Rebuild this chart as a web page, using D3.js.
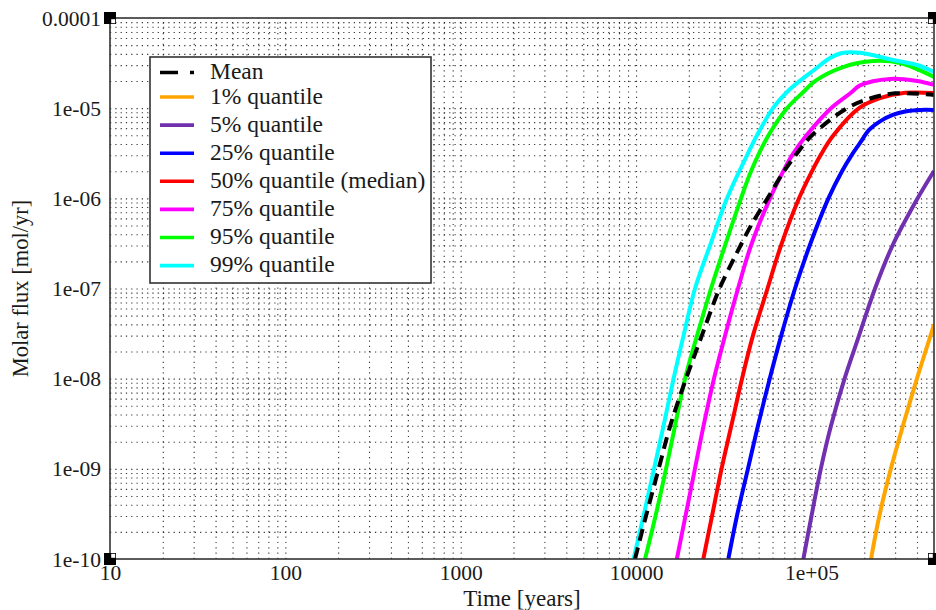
<!DOCTYPE html>
<html>
<head>
<meta charset="utf-8">
<script src="https://cdn.jsdelivr.net/npm/d3@7"></script>
<style>
  body { margin: 0; background: #fff; }
  svg { display: block; }
  text { font-family: "Liberation Serif", "Times New Roman", serif; fill: #1a1a1a; }
</style>
</head>
<body>
<svg id="chart" width="936" height="610"></svg>
<script>
// ---------------- data ----------------
const seriesNames = ["Mean", "1% quantile", "5% quantile", "25% quantile",
  "50% quantile (median)", "75% quantile", "95% quantile", "99% quantile"];

const xTickValues = [10, 100, 1000, 10000, 100000];
const xTickLabels = ["10", "100", "1000", "10000", "1e+05"];
const yTickValues = [1e-4, 1e-5, 1e-6, 1e-7, 1e-8, 1e-9, 1e-10];
const yTickLabels = ["0.0001", "1e-05", "1e-06", "1e-07", "1e-08", "1e-09", "1e-10"];
const xTitle = "Time [years]";
const yTitle = "Molar flux [mol/yr]";

// [time (years), molar flux (mol/yr)]
const meanFlux = [[9860,1e-10],[11390,3e-10],[13450,1e-9],[15660,3e-9],[19270,1e-8],[23710,3e-8],
  [29920,1e-7],[35490,2e-7],[39420,3e-7],[45240,5e-7],[56180,1e-6],[69770,2e-6],[81150,3e-6],
  [100800,5e-6],[159600,1e-5],[215900,1.28e-5],[299900,1.46e-5],[500000,1.40e-5]];
const q01Flux = [[218700,1e-10],[243900,3e-10],[283700,1e-9],[332500,3e-9],[399700,1e-8],
  [477700,3e-8],[500000,4e-8]];
const q05Flux = [[89940,1e-10],[100100,3e-10],[113100,1e-9],[129300,3e-9],[154500,1e-8],
  [186800,3e-8],[230500,1e-7],[290100,3e-7],[403300,1e-6],[500000,2.01e-6]];
const q25Flux = [[33590,1e-10],[37600,3e-10],[43440,1e-9],[49540,3e-9],[57830,1e-8],[67260,3e-8],
  [80630,1e-7],[97790,3e-7],[125000,1e-6],[149400,2e-6],[169300,3e-6],[189300,4.11e-6],
  [213100,5.73e-6],[246100,7.13e-6],[290900,8.41e-6],[341800,9.19e-6],[416300,9.55e-6],
  [500000,9.55e-6]];
const q50Flux = [[24180,1e-10],[27110,3e-10],[30720,1e-9],[34930,3e-9],[40200,1e-8],[46390,3e-8],
  [56180,1e-7],[67080,3e-7],[84980,1e-6],[100800,2e-6],[112700,3e-6],[133500,5e-6],
  [186800,1e-5],[246100,1.29e-5],[341800,1.48e-5],[500000,1.47e-5]];
const q75Flux = [[17080,1e-10],[19140,3e-10],[21660,1e-9],[24250,3e-9],[27800,1e-8],[32160,3e-8],
  [38140,1e-7],[45240,3e-7],[58050,1e-6],[69150,2e-6],[77520,3e-6],[93780,5e-6],[129300,1e-5],
  [169300,1.5e-5],[189300,1.79e-5],[280700,2.11e-5],[400200,2.0e-5],[500000,1.81e-5]];
const q95Flux = [[11250,1e-10],[12910,3e-10],[14820,1e-9],[16680,3e-9],[19020,1e-8],[22270,3e-8],
  [26760,1e-7],[32160,3e-7],[39680,1e-6],[45240,2e-6],[56920,5e-6],[72590,1e-5],[89580,1.5e-5],
  [104800,2e-5],[151400,2.86e-5],[224600,3.33e-5],[320200,3.17e-5],[500000,2.22e-5]];
const q99Flux = [[9670,1e-10],[11030,3e-10],[12660,1e-9],[14340,3e-9],[16360,1e-8],[18650,3e-8],
  [21690,1e-7],[26410,3e-7],[33010,1e-6],[42930,3e-6],[48950,5e-6],[60390,1e-5],[74530,1.59e-5],
  [87230,2.06e-5],[103500,2.65e-5],[127700,3.6e-5],[149400,4.09e-5],[189300,4.12e-5],
  [292100,3.42e-5],[400200,3.01e-5],[500000,2.52e-5]];

const seriesData = [meanFlux, q01Flux, q05Flux, q25Flux, q50Flux, q75Flux, q95Flux, q99Flux];

// ---------------- styles ----------------
const seriesColors = ["#000000", "#ffa500", "#7030b0", "#0000ff", "#ff0000", "#ff00ff", "#00ff00", "#00ffff"];

const plot = { left: 110, right: 934, top: 18, bottom: 559 };
const svg = d3.select("#chart");

const x = d3.scaleLog().domain([10, 5e5]).range([plot.left, plot.right]);
const y = d3.scaleLog().domain([1e-10, 1e-4]).range([plot.bottom, plot.top]);

// ---------------- grid ----------------
const gridX = x.ticks().filter(v => v > 10 && v < 5e5);
const gridY = y.ticks().filter(v => v > 1e-10 * 1.0001 && v < 1e-4 * 0.9999);

const gx = svg.append("g").attr("transform", `translate(0,${plot.bottom})`)
  .call(d3.axisBottom(x).tickValues(gridX).tickFormat("").tickSize(-(plot.bottom - plot.top)));
const gy = svg.append("g").attr("transform", `translate(${plot.left},0)`)
  .call(d3.axisLeft(y).tickValues(gridY).tickFormat("").tickSize(-(plot.right - plot.left)));
[gx, gy].forEach(g => {
  g.select(".domain").remove();
  g.selectAll(".tick line").attr("stroke", "#111").attr("stroke-width", 1.1)
    .attr("stroke-dasharray", "1.2,4.1").attr("opacity", 0.85);
});

// ---------------- curves ----------------
svg.append("clipPath").attr("id", "clip").append("rect")
  .attr("x", plot.left).attr("y", plot.top)
  .attr("width", plot.right - plot.left).attr("height", plot.bottom - plot.top);

const line = d3.line().x(d => x(d[0])).y(d => y(d[1])).curve(d3.curveCatmullRom.alpha(0.5));
const curves = svg.append("g").attr("clip-path", "url(#clip)");
const drawOrder = [1, 2, 3, 4, 5, 6, 7, 0];
drawOrder.forEach(i => {
  curves.append("path")
    .attr("d", line(seriesData[i]))
    .attr("fill", "none")
    .attr("stroke", seriesColors[i])
    .attr("stroke-width", 4)
    .attr("stroke-linejoin", "round")
    .attr("stroke-dasharray", i === 0 ? "12,7" : null);
});

// ---------------- frame ----------------
svg.append("rect")
  .attr("x", plot.left).attr("y", plot.top)
  .attr("width", plot.right - plot.left).attr("height", plot.bottom - plot.top)
  .attr("fill", "none").attr("stroke", "#333").attr("stroke-width", 1.6);

const corners = [[plot.left, plot.top, 1, 1], [plot.right, plot.top, -1, 1],
  [plot.left, plot.bottom, 1, -1], [plot.right, plot.bottom, -1, -1]];
corners.forEach(([cx, cy, sx, sy]) => {
  svg.append("rect").attr("x", cx - 6).attr("y", cy - 6).attr("width", 12).attr("height", 12).attr("fill", "#000");
  svg.append("rect")
    .attr("x", sx > 0 ? cx + 1.2 : cx - 5.2).attr("y", sy > 0 ? cy + 1.2 : cy - 5.2)
    .attr("width", 4).attr("height", 4).attr("fill", "#fff");
});

// ---------------- tick labels ----------------
const xa = svg.append("g").attr("transform", `translate(0,${plot.bottom})`)
  .call(d3.axisBottom(x).tickValues(xTickValues).tickFormat((d, i) => xTickLabels[i]).tickSize(0).tickPadding(0));
xa.select(".domain").remove();
xa.selectAll("text").attr("fill", "#1a1a1a").attr("font-size", 21.5)
  .attr("font-family", "Liberation Serif, serif").attr("dy", null).attr("y", 21);

const ya = svg.append("g").attr("transform", `translate(${plot.left},0)`)
  .call(d3.axisLeft(y).tickValues(yTickValues).tickFormat((d, i) => yTickLabels[i]).tickSize(0).tickPadding(9));
ya.select(".domain").remove();
ya.selectAll("text").attr("fill", "#1a1a1a").attr("font-size", 21.5)
  .attr("font-family", "Liberation Serif, serif").attr("dy", "0.33em");

// ---------------- axis titles ----------------
svg.append("text").attr("x", (plot.left + plot.right) / 2).attr("y", 606)
  .attr("text-anchor", "middle").attr("font-size", 23).text(xTitle);
svg.append("text").attr("transform", `translate(28,${(plot.top + plot.bottom) / 2}) rotate(-90)`)
  .attr("text-anchor", "middle").attr("font-size", 22.5).text(yTitle);

// ---------------- legend ----------------
const legend = svg.append("g");
legend.append("rect").attr("x", 150).attr("y", 57).attr("width", 281).attr("height", 226)
  .attr("fill", "#fff").attr("stroke", "#333").attr("stroke-width", 1.6);
seriesNames.forEach((name, i) => {
  const ry = i === 0 ? 72.5 : 97 + (i - 1) * 28.1;
  legend.append("line").attr("x1", 160).attr("x2", 194).attr("y1", ry).attr("y2", ry)
    .attr("stroke", seriesColors[i]).attr("stroke-width", 3.6)
    .attr("stroke-dasharray", i === 0 ? "18,12" : null);
  legend.append("text").attr("x", 210).attr("y", ry + 6.5).attr("font-size", 23.5).text(name);
});
</script>
</body>
</html>
